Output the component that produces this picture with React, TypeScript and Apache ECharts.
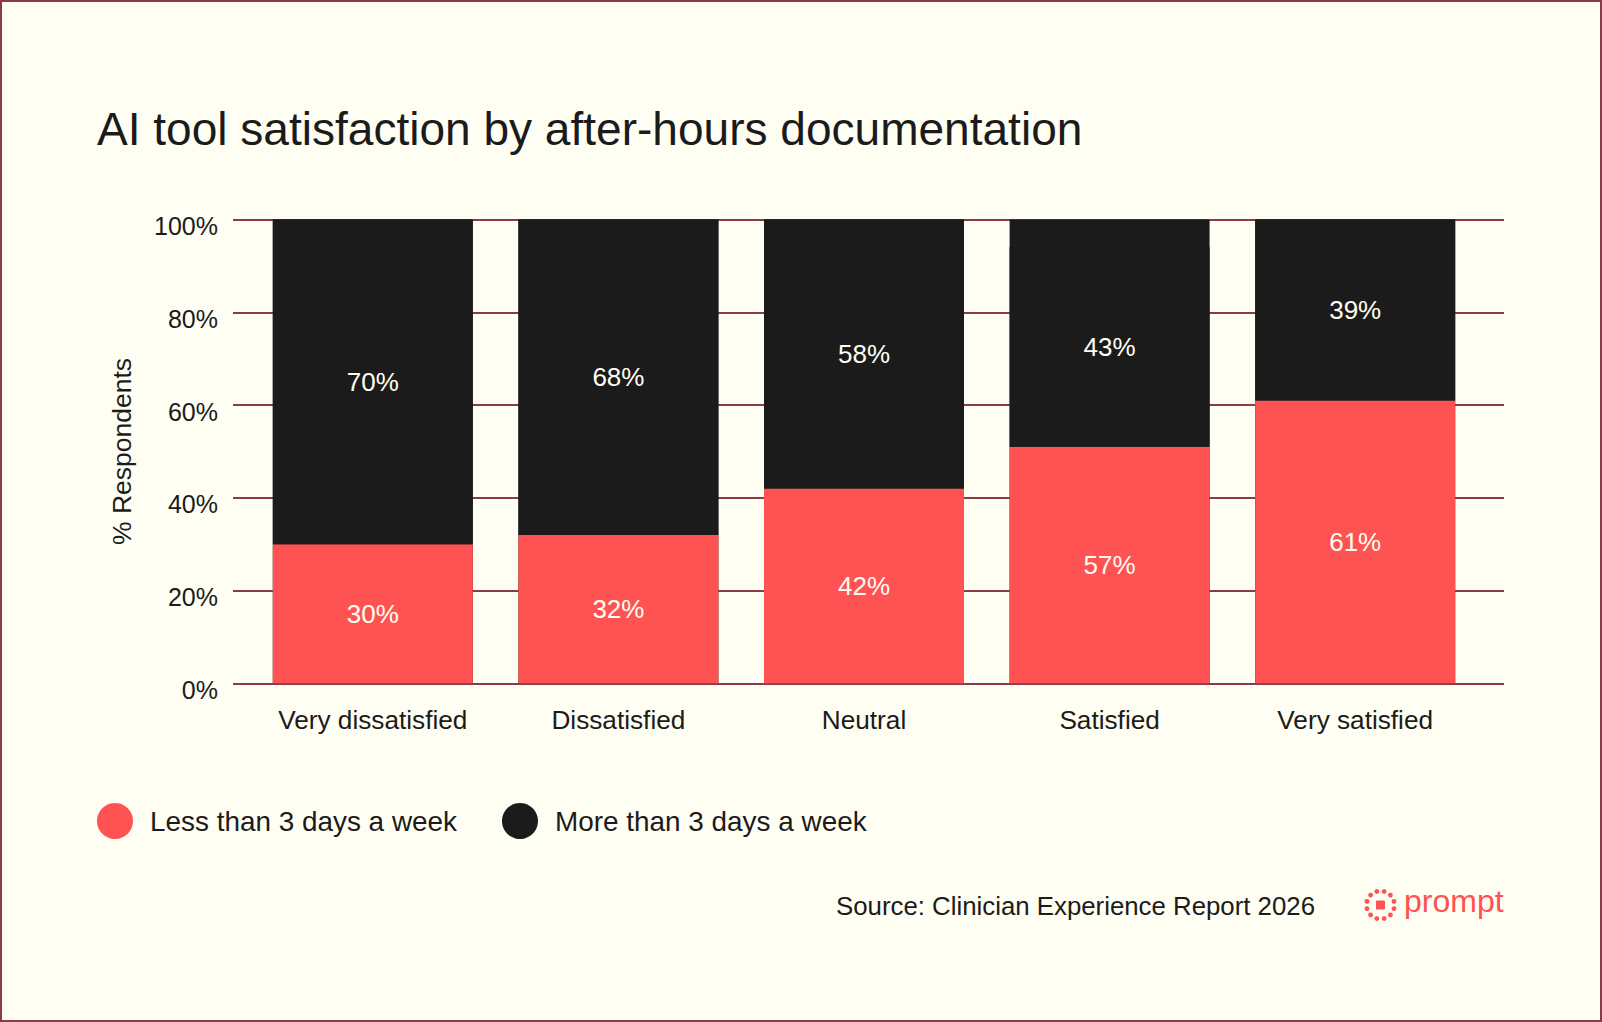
import React, { useEffect, useRef } from "react";
import * as echarts from "echarts";

const categories = ["Very dissatisfied", "Dissatisfied", "Neutral", "Satisfied", "Very satisfied"];
// bar heights of "Less than 3 days a week" as drawn (percent)
const lessThan3 = [30, 32, 42, 51, 61];
// printed labels of "Less than 3 days a week"
const lessThan3Labels = ["30%", "32%", "42%", "57%", "61%"];
// "More than 3 days a week" values (printed labels)
const moreThan3 = [70, 68, 58, 43, 39];
// black bars reach the top of the scale
const barTops = [100, 100, 100, 100, 100];

const TITLE = "AI tool satisfaction by after-hours documentation";
const SOURCE = "Source: Clinician Experience Report 2026";
const LESS_NAME = "Less than 3 days a week";
const MORE_NAME = "More than 3 days a week";

const RED = "#ff5252";
const BLACK = "#1b1b1b";
const BG = "#fffef2";
const MAROON = "#8b3a48";
const FONT = "'Liberation Sans', Arial, sans-serif";
const LABEL_COLOR = "#fffef2";

export default function App() {
  const ref = useRef<HTMLDivElement>(null);
  useEffect(() => {
    if (!ref.current) return;
    const chart = echarts.init(ref.current, undefined, { renderer: "svg" });

    const logoDots: any[] = [];
    const cx = 1380.5;
    const cy = 905;
    for (let i = 0; i < 12; i++) {
      const a = (i / 12) * Math.PI * 2 + Math.PI / 12;
      logoDots.push({
        type: "circle",
        shape: { cx: cx + Math.cos(a) * 14, cy: cy + Math.sin(a) * 14, r: 2.4 },
        style: { fill: RED },
        silent: true,
      });
    }

    const option: any = {
      animation: false,
      backgroundColor: BG,
      textStyle: { fontFamily: FONT, color: BLACK },
      grid: [
        { left: 233, right: 98, top: 219.5, height: 464, containLabel: false },
        { left: 250, width: 1228, top: 219.5, height: 464, containLabel: false },
      ],
      xAxis: [
        { type: "category", gridIndex: 0, data: categories, show: false },
        {
          type: "category",
          gridIndex: 1,
          data: categories,
          axisLine: { show: false },
          axisTick: { show: false },
          axisLabel: {
            fontSize: 26.2,
            color: BLACK,
            margin: 23,
            fontFamily: FONT,
            interval: 0,
            hideOverlap: false,
          },
        },
      ],
      yAxis: [
        {
          type: "value",
          gridIndex: 0,
          min: 0,
          max: 100,
          interval: 20,
          axisLine: { show: false },
          axisTick: { show: false },
          axisLabel: {
            formatter: "{value}%",
            fontSize: 25,
            color: BLACK,
            margin: 15,
            fontFamily: FONT,
            verticalAlign: "top",
            lineHeight: 13,
          },
          splitLine: { show: true, lineStyle: { color: MAROON, width: 2 } },
          name: "% Respondents",
          nameLocation: "middle",
          nameGap: 98,
          nameTextStyle: { fontSize: 26.5, color: BLACK, fontFamily: FONT },
        },
        { type: "value", gridIndex: 1, min: 0, max: 100, interval: 20, show: false },
      ],
      legend: {
        left: 97,
        top: 803,
        padding: 0,
        itemWidth: 36,
        itemHeight: 36,
        itemGap: 45,
        icon: "circle",
        data: [LESS_NAME, MORE_NAME],
        textStyle: { fontSize: 27.9, color: BLACK, fontFamily: FONT, padding: [0, 0, 0, 12] },
        selectedMode: false,
      },
      series: [
        {
          name: MORE_NAME,
          type: "bar",
          xAxisIndex: 1,
          yAxisIndex: 1,
          data: barTops,
          barWidth: 200,
          barGap: "-100%",
          itemStyle: { color: BLACK },
          z: 1,
          silent: true,
        },
        {
          name: LESS_NAME,
          type: "bar",
          xAxisIndex: 1,
          yAxisIndex: 1,
          stack: "share",
          data: lessThan3,
          barWidth: 200,
          barGap: "-100%",
          itemStyle: { color: RED },
          z: 3,
          label: {
            show: true,
            position: "inside",
            color: LABEL_COLOR,
            fontSize: 26,
            fontFamily: FONT,
            formatter: (p: any) => lessThan3Labels[p.dataIndex],
          },
        },
        {
          name: "more-labels",
          type: "bar",
          xAxisIndex: 1,
          yAxisIndex: 1,
          stack: "share",
          data: moreThan3,
          barWidth: 200,
          barGap: "-100%",
          itemStyle: { color: BLACK },
          z: 3,
          label: {
            show: true,
            position: "inside",
            color: LABEL_COLOR,
            fontSize: 26,
            fontFamily: FONT,
            formatter: (p: any) => `${p.value}%`,
          },
        },
      ],
      graphic: [
        {
          type: "rect",
          shape: { x: 1, y: 1, width: 1600, height: 1020 },
          style: { fill: "none", stroke: MAROON, lineWidth: 2 },
          silent: true,
          z: 100,
        },
        {
          type: "text",
          x: 97,
          y: 128.7,
          scaleX: 0.98,
          style: {
            text: TITLE,
            fill: BLACK,
            font: `47px ${FONT}`,
            align: "left",
            verticalAlign: "middle",
          },
        },
        {
          type: "text",
          x: 1315,
          y: 906,
          style: {
            text: SOURCE,
            fill: BLACK,
            font: `25.8px ${FONT}`,
            align: "right",
            verticalAlign: "middle",
          },
        },
        ...logoDots,
        {
          type: "rect",
          shape: { x: cx - 4.5, y: cy - 4.5, width: 9, height: 9, r: 1 },
          style: { fill: RED },
          silent: true,
        },
        {
          type: "text",
          x: 1404,
          y: 901,
          style: {
            text: "prompt",
            fill: RED,
            font: `32px ${FONT}`,
            align: "left",
            verticalAlign: "middle",
          },
        },
      ],
    };
    chart.setOption(option);
    return () => chart.dispose();
  }, []);

  return (
    <div
      ref={ref}
      style={{ position: "fixed", left: 0, top: 0, width: 1602, height: 1022 }}
    />
  );
}
